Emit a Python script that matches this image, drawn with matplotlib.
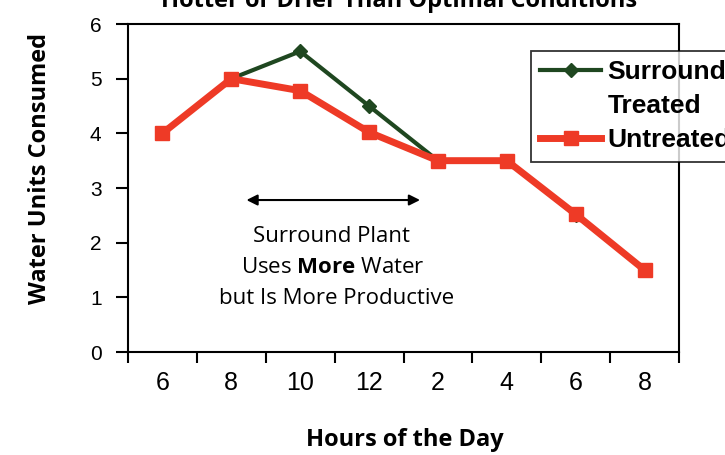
#!/usr/bin/env python3
"""Water use over the day: Surround-treated vs untreated plants."""

import matplotlib

matplotlib.use("Agg")
import matplotlib.pyplot as plt
from matplotlib.lines import Line2D

HOURS = ["6", "8", "10", "12", "2", "4", "6", "8"]
TREATED = [4.0, 5.0, 5.5, 4.5, 3.5, 3.5, 2.5, 1.5]
UNTREATED = [4.0, 5.0, 4.78, 4.02, 3.5, 3.5, 2.52, 1.5]

GREEN = "#1F4720"
RED = "#EE3A26"

plt.rcParams["mathtext.fontset"] = "custom"
plt.rcParams["mathtext.rm"] = "Open Sans"
plt.rcParams["mathtext.bf"] = "Open Sans:bold"

W, H = 725, 455


def main() -> None:
    fig = plt.figure(figsize=(W / 100, H / 100), dpi=100)
    ax = fig.add_axes([128 / W, 1 - 352 / H, (679 - 128) / W, (352 - 24) / H])

    x = list(range(len(HOURS)))
    ax.plot(x, TREATED, color=GREEN, lw=3, marker="D", ms=7.5, zorder=3)
    ax.plot(x, UNTREATED, color=RED, lw=5, marker="s", ms=9.5, zorder=4)

    ax.set_xlim(-0.5, len(HOURS) - 0.5)
    ax.set_ylim(0, 6)
    ax.set_xticks([i - 0.5 for i in range(len(HOURS) + 1)])
    ax.set_xticklabels([])
    ax.set_xticks(x, minor=True)
    ax.set_xticklabels(HOURS, minor=True, family="Liberation Sans", fontsize=18)
    ax.tick_params(axis="x", which="minor", length=0, pad=14)
    ax.tick_params(axis="x", which="major", length=8, width=1.5, direction="out")
    ax.set_yticks(range(7))
    ax.set_yticklabels([str(v) for v in range(7)], family="Liberation Sans", fontsize=15)
    ax.tick_params(axis="y", length=9, width=1.5, direction="out", pad=10)
    for s in ax.spines.values():
        s.set_linewidth(1.5)
        s.set_color("black")

    # note with arrow
    ax.annotate("", xy=(3.74, 2.78), xytext=(1.22, 2.78),
                arrowprops=dict(arrowstyle="<|-|>", color="black", lw=1.5,
                                mutation_scale=16, shrinkA=0, shrinkB=0))
    note = dict(ha="center", va="center", fontsize=16, family="Open Sans")
    ax.text(2.45, 2.12, "Surround Plant", **note)
    ax.text(2.47, 1.55, r"Uses $\mathbf{More}$ Water", **note)
    ax.text(2.53, 0.98, "but Is More Productive", **note)

    handles = [Line2D([], [], color=GREEN, lw=3, marker="D", ms=7.5),
               Line2D([], [], color="none"),
               Line2D([], [], color=RED, lw=5, marker="s", ms=9.5)]
    leg = fig.legend(handles, ["Surround", "Treated", "Untreated"],
                     loc="upper left", bbox_to_anchor=(531 / W, 1 - 51 / H),
                     prop=dict(family="Liberation Sans", weight="bold", size=19),
                     frameon=True, fancybox=False, borderpad=0.35,
                     handlelength=2.3, handletextpad=0.25, labelspacing=0.38,
                     borderaxespad=0)
    leg.get_frame().set_edgecolor("black")
    leg.get_frame().set_linewidth(1.3)

    fig.text(399 / W, 1 - 7 / H, "Hotter or Drier Than Optimal Conditions",
             ha="center", va="baseline", fontsize=17, weight="bold", family="Open Sans")
    fig.text(405 / W, 1 - 440 / H, "Hours of the Day", ha="center", va="center",
             fontsize=17, weight="bold", family="Open Sans")
    fig.text(40 / W, 1 - 168 / H, "Water Units Consumed", ha="center", va="center",
             rotation=90, fontsize=17, weight="bold", family="Open Sans")

    fig.savefig("out.png", dpi=100)
    plt.close(fig)


if __name__ == "__main__":
    main()
